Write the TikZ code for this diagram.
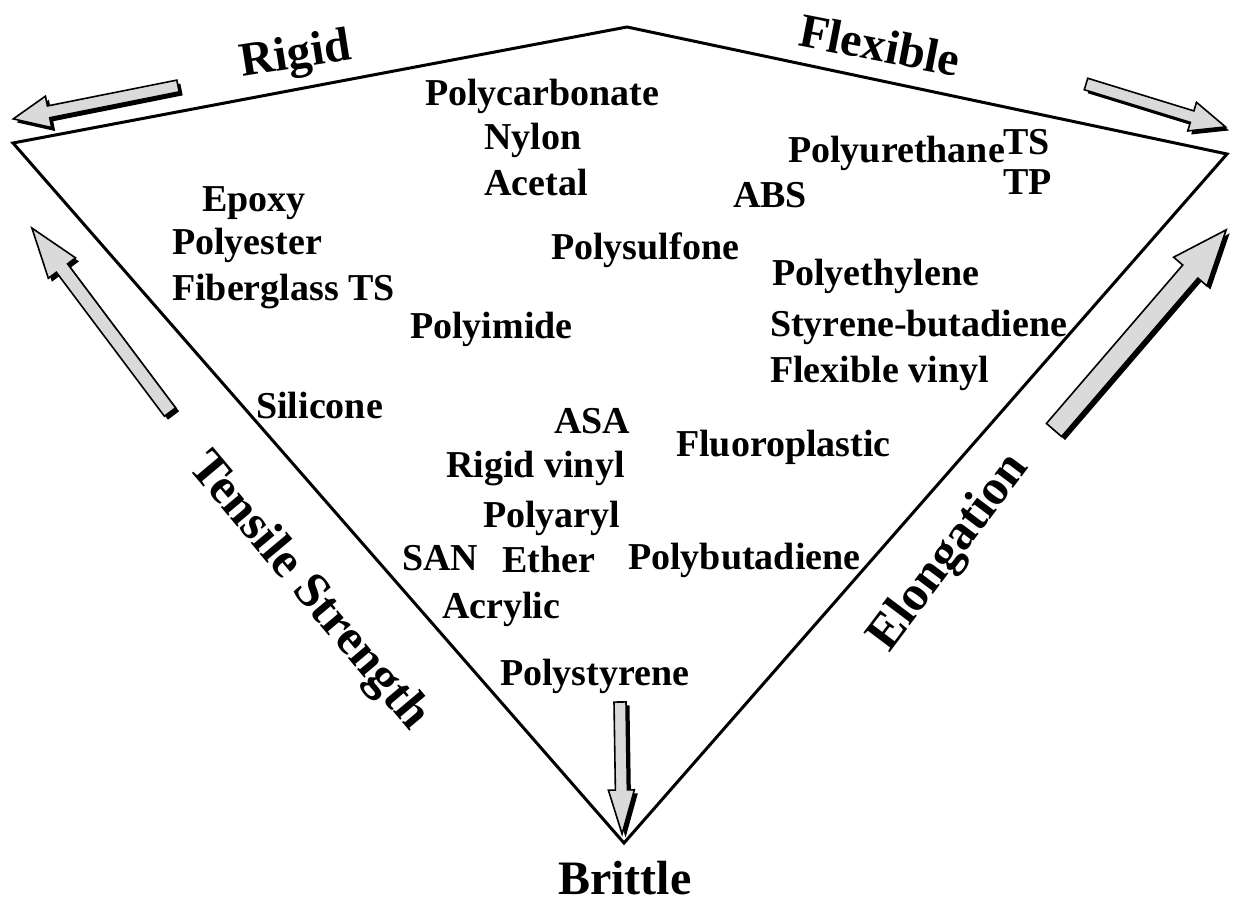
\documentclass[tikz,border=0pt]{standalone}
\usepackage{fontspec}
\setmainfont{Liberation Serif}
\definecolor{arrowgray}{RGB}{218,218,218}
\newcommand\blockarr[7]{%
  \begin{scope}[shift={(#1+3.5,#2+3.5)},rotate=#3]
    \fill[black] (0,-#5)--(#4-#7,-#5)--(#4-#7,-#6)--(#4,0)--(#4-#7,#6)--(#4-#7,#5)--(0,#5)--cycle;
  \end{scope}
  \begin{scope}[shift={(#1,#2)},rotate=#3]
    \filldraw[fill=arrowgray,draw=black,line width=1.6pt,line join=miter]
      (0,-#5)--(#4-#7,-#5)--(#4-#7,-#6)--(#4,0)--(#4-#7,#6)--(#4-#7,#5)--(0,#5)--cycle;
  \end{scope}}
\begin{document}
\begin{tikzpicture}[x=1pt,y=-1pt,
  item/.style={anchor=base west,inner sep=0pt,font=\fontsize{38}{40}\selectfont\bfseries},
  big/.style={inner sep=0pt,font=\fontsize{48}{50}\selectfont\bfseries},
  edge/.style={draw=black,line width=3pt,line join=miter}]
\useasboundingbox (0,0) rectangle (1234,909);
\fill[white] (0,0) rectangle (1234,909);
% outline
\coordinate (L) at (13,143);
\coordinate (T) at (627,27);
\coordinate (R) at (1227,154);
\coordinate (B) at (624,843);
\draw[edge] (L)--(T)--(R)--(B)--cycle;
% arrows
\blockarr{178}{86}{191.3}{168}{6}{16}{36}
\blockarr{1086}{84}{-17.1}{146}{6}{15}{35}
\blockarr{170}{412}{126.9}{230}{7}{17}{50}
\blockarr{1054}{430}{49.3}{264}{10}{22}{55}
\blockarr{620}{702}{-89.1}{132}{6}{13}{44}
% axis labels
\node[big,rotate=9] (rigid) at (296,57) {Rigid};
\node[big,rotate=-11] (flex) at (880,45) {Flexible};
\node[big,anchor=base west] (brittle) at (558,894) {Brittle};
\node[big,rotate=-50,font=\fontsize{50}{52}\selectfont\bfseries] (tensile) at (308,592) {Tensile Strength};
\node[big,rotate=53,font=\fontsize{50}{52}\selectfont\bfseries] (elong) at (950,553) {Elongation};
% materials
\node[item] (pc) at (425,106) {Polycarbonate};
\node[item] (nylon) at (484,150) {Nylon};
\node[item] (acetal) at (484,196) {Acetal};
\node[item] (epoxy) at (202,212) {Epoxy};
\node[item] (polyester) at (172,255) {Polyester};
\node[item] (fiberglass) at (172,301) {Fiberglass TS};
\node[item] (polyimide) at (410,338) {Polyimide};
\node[item] (polysulfone) at (551,260) {Polysulfone};
\node[item] (abs) at (733,208) {ABS};
\node[item] (pu) at (788,163) {Polyurethane};
\node[item] (ts) at (1003,155) {TS};
\node[item] (tp) at (1003,195) {TP};
\node[item] (pe) at (772,286) {Polyethylene};
\node[item] (sb) at (770,336) {Styrene-butadiene};
\node[item] (fv) at (770,382) {Flexible vinyl};
\node[item] (silicone) at (256,418) {Silicone};
\node[item] (asa) at (554,433) {ASA};
\node[item] (rv) at (446,477) {Rigid vinyl};
\node[item] (fluoro) at (676,456) {Fluoroplastic};
\node[item] (polyaryl) at (483,527) {Polyaryl};
\node[item] (san) at (402,570) {SAN};
\node[item] (ether) at (502,572) {Ether};
\node[item] (pb) at (628,569) {Polybutadiene};
\node[item] (acrylic) at (442,618) {Acrylic};
\node[item] (ps) at (500,685) {Polystyrene};
\end{tikzpicture}
\end{document}
